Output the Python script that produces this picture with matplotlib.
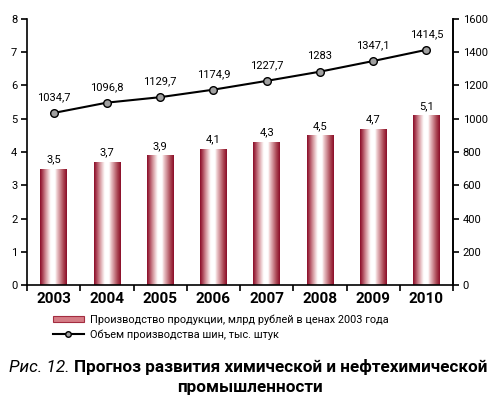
import numpy as np
import matplotlib
matplotlib.use('Agg')
import matplotlib.pyplot as plt
from matplotlib.colors import LinearSegmentedColormap
from matplotlib.lines import Line2D
from matplotlib.patches import Patch

plt.rcParams['font.family'] = ['Roboto', 'DejaVu Sans']

years = ['2003', '2004', '2005', '2006', '2007', '2008', '2009', '2010']
production = [3.5, 3.7, 3.9, 4.1, 4.3, 4.5, 4.7, 5.1]
tires = [1034.7, 1096.8, 1129.7, 1174.9, 1227.7, 1283, 1347.1, 1414.5]
prod_labels = ['3,5', '3,7', '3,9', '4,1', '4,3', '4,5', '4,7', '5,1']
tire_labels = ['1034,7', '1096,8', '1129,7', '1174,9', '1227,7', '1283', '1347,1', '1414,5']

# cylinder-like gradient for bars
bar_cmap = LinearSegmentedColormap.from_list('cyl', [
    (0.0, '#8a0c28'), (0.08, '#a53a4e'), (0.2, '#cf8a93'), (0.32, '#efd3d5'),
    (0.4, '#ffffff'), (0.56, '#ffffff'), (0.62, '#efd0d2'), (0.74, '#cf8d95'),
    (0.88, '#a8424f'), (1.0, '#8a0c28')])

fig = plt.figure(figsize=(5, 3.99), dpi=100)
ax = fig.add_axes([0.054, 0.2857, 0.852, 0.6667])
x = np.arange(len(years))
bars = ax.bar(x, production, width=0.5, color='none', edgecolor='none', zorder=2)
grad = np.linspace(0, 1, 200).reshape(1, -1)
for b in bars:
    x0, w, h = b.get_x(), b.get_width(), b.get_height()
    im = ax.imshow(grad, cmap=bar_cmap, aspect='auto', extent=[x0, x0 + w, 0, h],
                   interpolation='bilinear', zorder=2)
    im.set_clip_path(b)
for xi, v, lab in zip(x, production, prod_labels):
    ax.text(xi, v + 0.13, lab, ha='center', va='bottom', fontsize=8)

ax.set_xlim(-0.5, 7.5)
ax.set_ylim(0, 8)
ax.set_yticks(range(0, 9))
ax.set_xticks(np.arange(-0.5, 8, 1))
ax.set_xticklabels([])
ax.set_xticks(x, minor=True)
ax.set_xticklabels(years, minor=True, fontsize=11, fontweight='bold')
ax.tick_params(axis='x', which='minor', length=0, pad=5)
ax.tick_params(axis='x', which='major', length=4, width=1.2, direction='out')
ax.tick_params(axis='y', length=4, width=1.2, labelsize=8, pad=3)
ax.spines['top'].set_visible(False)
for s in ['left', 'right', 'bottom']:
    ax.spines[s].set_linewidth(1.2)

ax2 = ax.twinx()
ax2.plot(x, tires, color='black', lw=1.5, marker='o', ms=5.5, mfc='#a0a0a0',
         mec='black', mew=1, zorder=3)
for xi, v, lab in zip(x, tires, tire_labels):
    ax2.text(xi, v + 65, lab, ha='center', va='bottom', fontsize=8)
ax2.set_ylim(0, 1600)
ax2.set_yticks(range(0, 1601, 200))
ax2.tick_params(axis='y', length=4, width=1.2, labelsize=8, pad=3)
ax2.spines['top'].set_visible(False)
ax2.spines['right'].set_linewidth(1.2)
ax2.spines['left'].set_visible(False)
ax2.spines['bottom'].set_visible(False)

handles = [Patch(facecolor='#d57d86', edgecolor='#a32c40', lw=0.8),
           Line2D([0], [0], color='black', lw=1.5, marker='o', ms=4, mfc='#a0a0a0', mec='black')]
fig.legend(handles, ['Производство продукции, млрд рублей в ценах 2003 года',
                     'Объем производства шин, тыс. штук'],
           loc='upper left', bbox_to_anchor=(0.105, 0.212), frameon=False, fontsize=7.8,
           handlelength=2.9, handleheight=0.4, handletextpad=0.6, labelspacing=0.4,
           borderpad=0, borderaxespad=0)

fs = 12.3
t1 = fig.text(0.018, 0.068, 'Рис. 12.', fontsize=fs, style='italic', va='baseline')
fig.canvas.draw()
bb = t1.get_window_extent()
x1 = bb.x1 / fig.bbox.width
fig.text(x1 + 0.008, 0.068, 'Прогноз развития химической и нефтехимической',
         fontsize=fs, fontweight='bold', va='baseline')
fig.text(0.5, 0.018, 'промышленности', fontsize=fs, fontweight='bold',
         ha='center', va='baseline')

fig.savefig('out.png', dpi=100)
